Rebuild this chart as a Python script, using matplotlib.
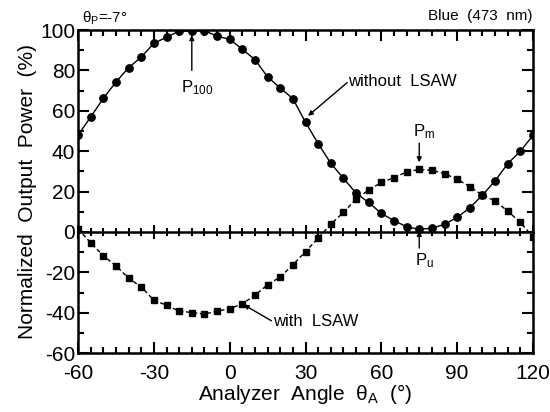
import numpy as np
import matplotlib
matplotlib.use("Agg")
import matplotlib.pyplot as plt
from matplotlib.ticker import MultipleLocator

plt.rcParams['font.family'] = ['Liberation Sans', 'DejaVu Sans']
plt.rcParams['mathtext.fontset'] = 'custom'
plt.rcParams['mathtext.rm'] = 'Liberation Sans'
plt.rcParams['mathtext.it'] = 'Liberation Sans'
plt.rcParams['axes.unicode_minus'] = False

# analyzer angle (deg)
angle = list(range(-60, 121, 5))

# normalized output power without LSAW (%)
without_lsaw = [48, 57, 66.2, 74.3, 81.4, 86.6, 93.5, 96.4, 99.5, 99.5, 99.7, 97,
                95.4, 90.5, 85.3, 76.8, 71.3, 66, 54.3, 43.8, 34, 26.6, 19.2, 14.6,
                9.2, 5.6, 2.6, 1.3, 1.8, 3.8, 7.2, 12, 18.2, 25.3, 33.8, 40, 47.8]

# normalized output power with LSAW (%)
with_lsaw = [1.5, -5.4, -11.8, -16.8, -22.9, -27.3, -33.8, -36.3, -39.2, -39.9,
             -40.7, -39.2, -38.1, -35.5, -31.4, -26.1, -22.3, -16.3, -9.7, -3.1,
             3.8, 9.7, 16.3, 20.8, 24.5, 26.9, 29.7, 31, 30.5, 28.9, 26.1, 22.5,
             18.2, 15.4, 10.3, 4.8, -2.5]

fig = plt.figure(figsize=(5.5, 4.12), dpi=100)
ax = fig.add_axes([0.142, 0.143, 0.827, 0.784])

ax.plot(angle, without_lsaw, '-o', color='black', lw=1.0, ms=5.3, zorder=3)
ax.plot(angle, with_lsaw, '--s', color='black', lw=1.0, ms=4, dashes=(3, 2), zorder=3)

ax.set_xlim(-60, 120)
ax.set_ylim(-60, 100)
ax.xaxis.set_major_locator(MultipleLocator(30))
ax.xaxis.set_minor_locator(MultipleLocator(5))
ax.yaxis.set_major_locator(MultipleLocator(20))
ax.yaxis.set_minor_locator(MultipleLocator(10))
ax.tick_params(which='both', direction='in', top=True, right=True, width=1.5, labelsize=15)
ax.tick_params(axis='x', pad=8)
ax.tick_params(axis='y', pad=2)
ax.tick_params(which='major', length=8)
ax.tick_params(which='minor', length=4)
for s in ax.spines.values():
    s.set_linewidth(1.8)

# zero line with ticks on both sides
zero = ax.secondary_xaxis(60 / 160)
zero.xaxis.set_major_locator(MultipleLocator(30))
zero.xaxis.set_minor_locator(MultipleLocator(5))
zero.tick_params(which='both', direction='inout', labelbottom=False, width=1.5)
zero.tick_params(which='major', length=10)
zero.tick_params(which='minor', length=6)
zero.spines['bottom'].set_linewidth(1.8)

ax.set_xlabel(r'Analyzer  Angle  $\theta_{\mathrm{A}}$  (°)', fontsize=15, labelpad=-1)
ax.set_ylabel('Normalized  Output  Power  (%)', fontsize=15, labelpad=2)

arr = dict(arrowstyle='-|>', color='black', lw=1.0, mutation_scale=7, shrinkA=0, shrinkB=0)
ax.annotate('', xy=(-15, 97.5), xytext=(-15, 80), arrowprops=arr)
ax.text(-13, 76, r'P$_{100}$', fontsize=12, ha='center', va='top')

ax.annotate('', xy=(31, 57.5), xytext=(46.5, 74), arrowprops=arr)
ax.text(47, 74.5, 'without  LSAW', fontsize=12, ha='left', va='center')

ax.annotate('', xy=(75, 34.5), xytext=(75, 44), arrowprops=arr)
ax.text(77, 45, r'P$_{\mathrm{m}}$', fontsize=12, ha='center', va='bottom')

ax.annotate('', xy=(75, 0.5), xytext=(75, -8), arrowprops=arr)
ax.text(77, -9.5, r'P$_{\mathrm{u}}$', fontsize=12, ha='center', va='top')

ax.annotate('', xy=(5.5, -36), xytext=(16.5, -44), arrowprops=arr)
ax.text(17, -44.2, 'with  LSAW', fontsize=12, ha='left', va='center')

fig.text(0.149, 0.955, r'$\theta_{\mathrm{P}}$=-7°', fontsize=11, ha='left', va='center')
fig.text(0.969, 0.962, 'Blue  (473  nm)', fontsize=11, ha='right', va='center')

fig.savefig('out.png', dpi=100)
